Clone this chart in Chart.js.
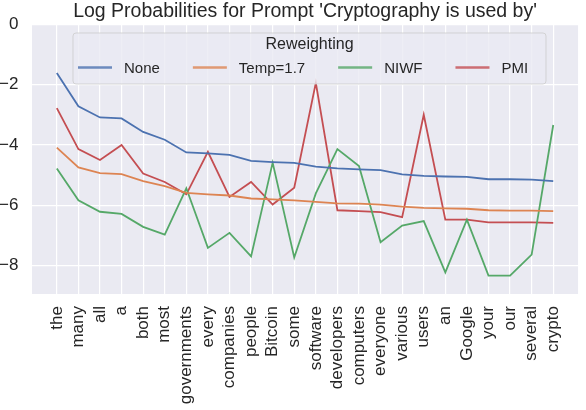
<!DOCTYPE html>
<html>
<head>
<meta charset="utf-8">
<script src="https://cdn.jsdelivr.net/npm/chart.js@4"></script>
<style>
    body { margin: 0; background: #ffffff; }
    #chart-container { width: 586px; height: 410px; }
</style>
</head>
<body>
<div id="chart-container"><canvas id="chart"></canvas></div>
<script>
// Tokens on the x axis
const tokens = ['the', 'many', 'all', 'a', 'both', 'most', 'governments', 'every', 'companies', 'people',
    'Bitcoin', 'some', 'software', 'developers', 'computers', 'everyone', 'various', 'users', 'an',
    'Google', 'your', 'our', 'several', 'crypto'];

// Log probabilities per reweighting method
const noneVals = [-1.61, -2.72, -3.09, -3.12, -3.57, -3.83, -4.25, -4.28, -4.33, -4.53, -4.57, -4.60,
    -4.72, -4.78, -4.81, -4.84, -4.98, -5.03, -5.05, -5.06, -5.14, -5.14, -5.15, -5.20];
const tempVals = [-4.09, -4.75, -4.94, -4.97, -5.20, -5.37, -5.59, -5.64, -5.68, -5.78, -5.81, -5.84,
    -5.89, -5.94, -5.95, -5.98, -6.05, -6.09, -6.11, -6.12, -6.17, -6.18, -6.18, -6.20];
const niwfVals = [-4.78, -5.84, -6.22, -6.29, -6.72, -6.98, -5.44, -7.42, -6.92, -7.70, -4.59, -7.74,
    -5.61, -4.14, -4.70, -7.23, -6.68, -6.53, -8.23, -6.48, -8.34, -8.34, -7.64, -3.34];
const pmiVals = [-2.78, -4.14, -4.50, -4.00, -4.95, -5.23, -5.64, -4.23, -5.73, -5.23, -5.98, -5.42,
    -1.94, -6.17, -6.20, -6.23, -6.40, -3.00, -6.48, -6.48, -6.57, -6.57, -6.57, -6.59];

const yTicks = [0, -2, -4, -6, -8];

const seriesNames = ['None', 'Temp=1.7', 'NIWF', 'PMI'];
const seriesColors = ['#4C72B0', '#DD8452', '#55A868', '#C44E52'];
const seriesValues = [noneVals, tempVals, niwfVals, pmiVals];

const fontFamily = '"Liberation Sans", Arial, sans-serif';
const textColor = '#262626';

// Grey plot background like seaborn's darkgrid
const backgroundPlugin = {
    id: 'backgroundPlugin',
    beforeDraw: function(chart) {
        const { ctx, chartArea } = chart;
        ctx.save();
        ctx.fillStyle = '#EAEAF2';
        ctx.fillRect(chartArea.left, chartArea.top, chartArea.right - chartArea.left, chartArea.bottom - chartArea.top);
        ctx.restore();
    }
};

// Legend box inside the plot, with a title and four columns
const legendPlugin = {
    id: 'legendPlugin',
    afterDraw: function(chart) {
        const ctx = chart.ctx;
        const boxLeft = 73, boxTop = 33, boxRight = 546, boxBottom = 84;

        ctx.save();
        ctx.beginPath();
        ctx.roundRect(boxLeft, boxTop, boxRight - boxLeft, boxBottom - boxTop, 3);
        ctx.fillStyle = 'rgba(234, 234, 242, 0.8)';
        ctx.fill();
        ctx.strokeStyle = 'rgba(204, 204, 204, 0.8)';
        ctx.lineWidth = 1;
        ctx.stroke();

        ctx.font = '16px ' + fontFamily;
        ctx.fillStyle = textColor;
        ctx.textAlign = 'center';
        ctx.textBaseline = 'middle';
        ctx.fillText('Reweighting', (boxLeft + boxRight) / 2, 45);

        let x = 78;
        const rowY = 67.5;
        ctx.font = '15px ' + fontFamily;
        ctx.textAlign = 'left';
        chart.data.datasets.forEach(ds => {
            ctx.strokeStyle = ds.borderColor;
            ctx.globalAlpha = 0.8;
            ctx.lineWidth = 2.5;
            ctx.beginPath();
            ctx.moveTo(x, rowY);
            ctx.lineTo(x + 34, rowY);
            ctx.stroke();
            ctx.globalAlpha = 1;
            ctx.fillStyle = textColor;
            ctx.fillText(ds.label, x + 46, rowY + 1);
            x += 46 + ctx.measureText(ds.label).width + 33;
        });
        ctx.restore();
    }
};

const datasets = seriesNames.map((name, s) => ({
    label: name,
    data: tokens.map((t, i) => ({ x: i, y: seriesValues[s][i] })),
    borderColor: seriesColors[s],
    backgroundColor: seriesColors[s],
    borderWidth: 1.8,
    pointRadius: 0,
    tension: 0,
    fill: false
}));

const config = {
    type: 'line',
    data: { datasets: datasets },
    options: {
        responsive: true,
        maintainAspectRatio: false,
        animation: false,
        layout: { padding: 0 },
        plugins: {
            legend: { display: false },
            tooltip: { enabled: false },
            title: {
                display: true,
                fullSize: false,
                text: "Log Probabilities for Prompt 'Cryptography is used by'",
                font: { family: fontFamily, size: 19.5, weight: 'normal' },
                color: textColor,
                padding: { top: 0, bottom: 1 }
            }
        },
        scales: {
            x: {
                type: 'linear',
                min: -1.15,
                max: tokens.length - 1 + 1.15,
                afterBuildTicks: scale => { scale.ticks = tokens.map((t, i) => ({ value: i })); },
                afterFit: scale => { scale.height = 116; },
                ticks: {
                    autoSkip: false,
                    minRotation: 90,
                    maxRotation: 90,
                    padding: 12,
                    color: textColor,
                    font: { family: fontFamily, size: 17 },
                    callback: value => tokens[value]
                },
                grid: { color: '#ffffff', lineWidth: 1.2, drawTicks: false },
                border: { display: false }
            },
            y: {
                min: -8.95,
                max: 0,
                afterBuildTicks: scale => { scale.ticks = yTicks.map(v => ({ value: v })); },
                afterFit: scale => { scale.width = 32; },
                ticks: {
                    padding: 13.5,
                    color: textColor,
                    font: { family: fontFamily, size: 17 },
                    callback: value => String(value).replace('-', '\u2212')
                },
                grid: { color: '#ffffff', lineWidth: 1.2, drawTicks: false },
                border: { display: false }
            }
        }
    },
    plugins: [backgroundPlugin, legendPlugin]
};

new Chart(document.getElementById('chart').getContext('2d'), config);
</script>
</body>
</html>
